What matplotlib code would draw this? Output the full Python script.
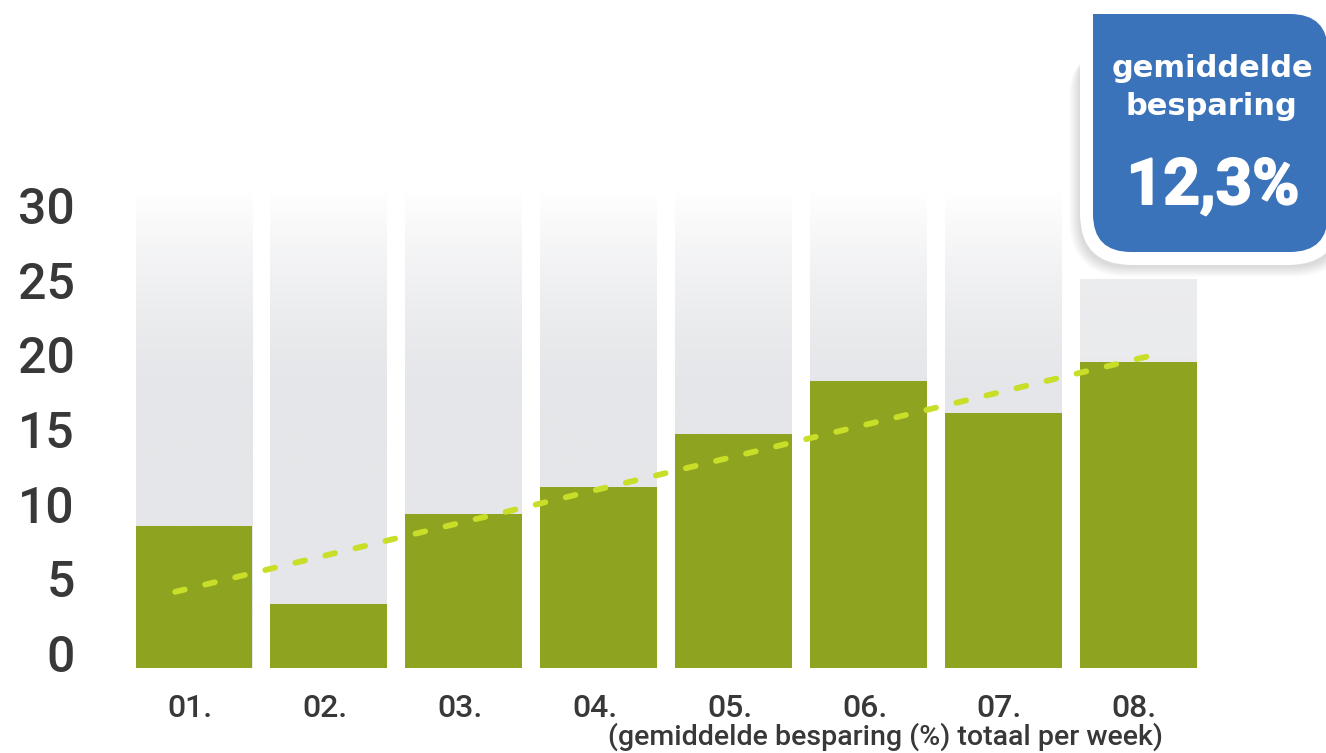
import matplotlib
matplotlib.use('Agg')
import matplotlib.pyplot as plt
import numpy as np
from matplotlib.patches import PathPatch
from matplotlib.path import Path
from matplotlib.transforms import ScaledTranslation
from matplotlib.colors import to_rgb
import matplotlib.patheffects as pe

# ---------------- data ----------------
weeks = ['01.', '02.', '03.', '04.', '05.', '06.', '07.', '08.']
savings = [9.5, 4.3, 10.3, 12.1, 15.7, 19.2, 17.1, 20.5]
capacity = [32, 32, 32, 32, 32, 32, 32, 26]
trend = [5.1, 21.0]
yticks = [0, 5, 10, 15, 20, 25, 30]
callout_lines = ['gemiddelde', 'besparing']
avg_label = '12,3%'
subtitle = '(gemiddelde besparing (%) totaal per week)'

# ---------------- style ----------------
W, H = 1326, 753
GREEN = '#8ea31f'
GRAY = '#e5e6e9'
TREND = '#c8de28'
BLUE = '#3a73b9'
TXT = '#383838'
plt.rcParams['font.family'] = ['Roboto', 'DejaVu Sans']

fig = plt.figure(figsize=(W / 100, H / 100), dpi=100)
fig.patch.set_facecolor('white')

pitch = 134.9
x0_px = 194
base_px = 668
ppu = 14.93
ax_l, ax_r, ax_t = 100, 1230, 150
ax = fig.add_axes([ax_l / W, 1 - base_px / H, (ax_r - ax_l) / W, (base_px - ax_t) / H])
for s in ax.spines.values():
    s.set_visible(False)
ax.set_facecolor('none')

x = np.arange(len(weeks))
bw = 0.867

# background (capacity) bars with a vertical fade
g0 = np.array(to_rgb(GRAY))
for xi, cap in zip(x, capacity):
    n = 200
    t = np.linspace(0, 1, n)
    if cap >= 30:
        mix = np.clip((t - 0.55) / 0.45, 0, 1) ** 1.6
    else:
        mix = 0.25 * t
    cols = g0[None, :] * (1 - mix[:, None]) + np.ones(3)[None, :] * mix[:, None]
    ax.imshow(cols[:, None, :], extent=[xi - bw / 2, xi + bw / 2, 0, cap], origin='lower',
              aspect='auto', interpolation='bilinear', zorder=1)

ax.bar(x, savings, width=bw, color=GREEN, zorder=2, linewidth=0)

# dashed trend line
ax.plot([x[0] - 0.14, x[-1] + 0.13], trend, color=TREND, lw=4.2,
        dashes=(1.7, 3.6), dash_capstyle='round', zorder=3)

ax.set_xlim((ax_l - x0_px) / pitch, (ax_r - x0_px) / pitch)
ax.set_ylim(0, (base_px - ax_t) / ppu)

# ticks
ax.set_yticks(yticks)
ax.set_yticklabels([str(v) for v in yticks], fontsize=36, color=TXT, fontweight='medium')
ax.tick_params(axis='y', length=0, pad=18)
for lab in ax.get_yticklabels():
    lab.set_va('baseline')
    lab.set_transform(lab.get_transform() + ScaledTranslation(0, -4 / 100, fig.dpi_scale_trans))

ax.set_xticks(x)
ax.set_xticklabels(weeks, fontsize=23, color=TXT, fontweight='medium')
ax.tick_params(axis='x', length=0, pad=0)
for lab in ax.get_xticklabels():
    lab.set_va('baseline')
    lab.set_transform(lab.get_transform() + ScaledTranslation(-4 / 100, -49 / 100, fig.dpi_scale_trans))

fig.text(1163 / W, 1 - 745 / H, subtitle, ha='right', va='baseline', fontsize=20.5,
         color=TXT, fontweight='medium')

# ---------------- callout (overlay in pixel coords) ----------------
ov = fig.add_axes([0, 0, 1, 1], zorder=5)
ov.set_xlim(0, W)
ov.set_ylim(H, 0)
ov.axis('off')
ov.patch.set_alpha(0)


def box_path(x0, y0, x1, y1, r, rtl=0):
    verts = [(x0, y0 + rtl)]
    codes = [Path.MOVETO]
    if rtl:
        verts += [(x0, y0), (x0 + rtl, y0)]
        codes += [Path.CURVE3, Path.CURVE3]
    verts += [(x1 - r, y0), (x1, y0), (x1, y0 + r),
              (x1, y1 - r), (x1, y1), (x1 - r, y1),
              (x0 + r, y1), (x0, y1), (x0, y1 - r),
              (x0, y0 + rtl)]
    codes += [Path.LINETO, Path.CURVE3, Path.CURVE3,
              Path.LINETO, Path.CURVE3, Path.CURVE3,
              Path.LINETO, Path.CURVE3, Path.CURVE3,
              Path.CLOSEPOLY]
    return Path(verts, codes)


bx0, by0, bx1, by1 = 1093, 14, 1328, 252
# soft shadow (left and bottom)
for k in range(12):
    e = 13 + k * 0.9
    p = box_path(bx0 - e - 1, by0 + 30 + k, bx1 + e, by1 + e + 2, 48 + k, rtl=40)
    ov.add_patch(PathPatch(p, facecolor='#000000', edgecolor='none', alpha=0.012))
# white frame
ov.add_patch(PathPatch(box_path(bx0 - 13, by0 - 10, bx1 + 12, by1 + 13, 52, rtl=20),
                       facecolor='white', edgecolor='none'))
# blue box
ov.add_patch(PathPatch(box_path(bx0, by0, bx1, by1, 38), facecolor=BLUE, edgecolor='none'))

ov.text(1212, 77, callout_lines[0], color='white', fontsize=22, fontweight='bold',
        family='DejaVu Sans', ha='center', va='baseline')
ov.text(1211, 115, callout_lines[1], color='white', fontsize=22, fontweight='bold',
        family='DejaVu Sans', ha='center', va='baseline')
ov.text(1213, 204, avg_label, color='white', fontsize=46, fontweight='bold',
        ha='center', va='baseline',
        path_effects=[pe.withStroke(linewidth=1.4, foreground='white')])

fig.savefig('out.png', dpi=100, facecolor='white')
